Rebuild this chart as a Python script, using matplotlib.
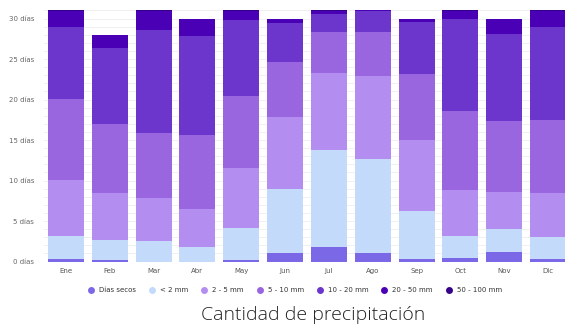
import matplotlib
matplotlib.use("Agg")
import matplotlib.pyplot as plt
from matplotlib.lines import Line2D
import numpy as np

months = ["Ene", "Feb", "Mar", "Abr", "May", "Jun", "Jul", "Ago", "Sep", "Oct", "Nov", "Dic"]
series_names = ["Días secos", "< 2 mm", "2 - 5 mm", "5 - 10 mm", "10 - 20 mm", "20 - 50 mm", "50 - 100 mm"]

dias_secos = [0.3, 0.2, 0.0, 0.0, 0.2, 1.0, 1.8, 1.0, 0.3, 0.4, 1.2, 0.3]
lt_2mm     = [2.9, 2.5, 2.55, 1.85, 3.9, 8.0, 12.0, 11.7, 5.95, 2.75, 2.8, 2.75]
mm_2_5     = [6.9, 5.8, 5.25, 4.65, 7.5, 8.9, 9.5, 10.15, 8.75, 5.65, 4.6, 5.4]
mm_5_10    = [9.95, 8.5, 8.05, 9.1, 8.8, 6.7, 5.0, 5.5, 8.2, 9.8, 8.8, 9.05]
mm_10_20   = [8.9, 9.3, 12.75, 12.25, 9.4, 4.8, 2.3, 2.6, 6.4, 11.4, 10.7, 11.4]
mm_20_50   = [2.0, 1.7, 2.3, 2.05, 1.15, 0.55, 0.35, 0.05, 0.35, 0.95, 1.85, 2.05]
mm_50_100  = [0.05, 0.0, 0.1, 0.1, 0.05, 0.05, 0.05, 0.0, 0.05, 0.05, 0.05, 0.05]

colors = ["#7b68e6", "#c3dafb", "#b38ef0", "#9966e0", "#6c35cc", "#4a00b4", "#36008a"]

data = [dias_secos, lt_2mm, mm_2_5, mm_5_10, mm_10_20, mm_20_50, mm_50_100]

fig = plt.figure(figsize=(5.65, 3.25), dpi=100)
W, H = 565, 325
left, right, top, bottom = 44, 570, 8, 261.5
ax = fig.add_axes([left / W, (H - bottom) / H, (right - left) / W, (bottom - top) / H])

x = np.arange(len(months))
base = np.zeros(len(months))
for vals, col in zip(data, colors):
    vals = np.array(vals)
    ax.bar(x, vals, bottom=base, width=0.82, color=col, edgecolor="none", zorder=3)
    base += vals

ax.set_xlim(-0.5, 11.5)
ax.set_ylim(0, 31.3)
ax.set_yticks(np.arange(0, 31, 5))
ax.set_yticklabels([f"{v} días" for v in range(0, 31, 5)], fontsize=5, color="#666666")
ax.set_yticks(np.arange(0, 32, 1), minor=True)
ax.set_xticks(x)
ax.set_xticklabels(months, fontsize=5, color="#555555")
ax.tick_params(axis="both", length=0, which="both")
ax.tick_params(axis="x", pad=5)
ax.tick_params(axis="y", pad=7)
ax.grid(axis="y", which="both", color="#eeeeee", linewidth=0.6, zorder=0)
ax.grid(axis="x", visible=False)
for s in ax.spines.values():
    s.set_visible(False)

handles = [Line2D([0], [0], marker="o", linestyle="none", markersize=5,
                  markerfacecolor=c, markeredgecolor="none") for c in colors]
fig.legend(handles, series_names, loc="center", bbox_to_anchor=(295 / W, 1 - 290 / H),
           ncol=7, frameon=False, fontsize=5, handletextpad=0.75, handlelength=0.8,
           columnspacing=1.9, labelcolor="#333333")

fig.text(313 / W, 1 - 319.5 / H, "Cantidad de precipitación", ha="center", va="baseline",
         fontsize=14, family="Open Sans", fontweight="light", color="#222222")

fig.savefig("out.png", dpi=100)
